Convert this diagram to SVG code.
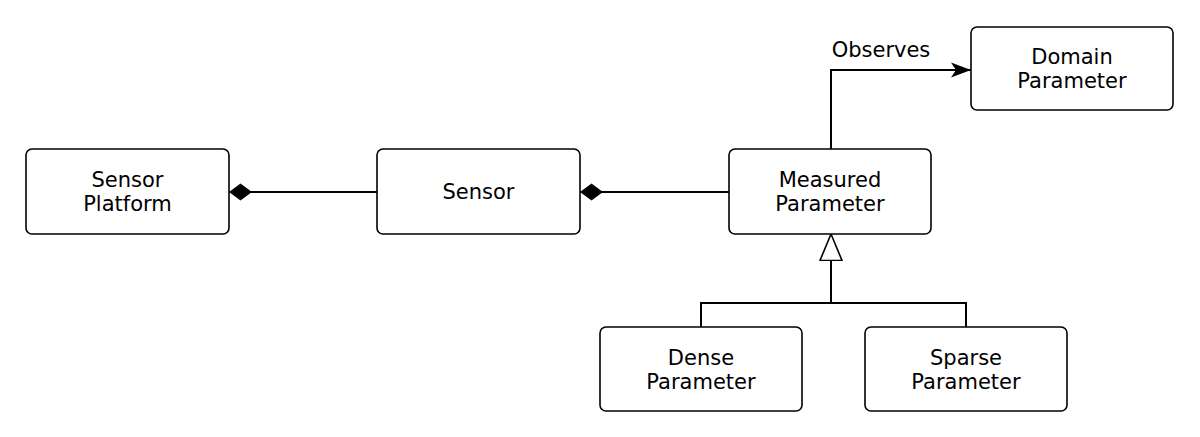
<svg xmlns="http://www.w3.org/2000/svg" width="1200" height="437" viewBox="0 0 1200 437">
<style>
.box{fill:#fff;stroke:#000;stroke-width:1.6}
.t{font-family:"DejaVu Sans",sans-serif;font-size:21px;fill:#000;text-anchor:middle}
.c{fill:none;stroke:#000;stroke-width:2}
</style>
<defs>
<marker id="diamond" markerUnits="userSpaceOnUse" markerWidth="26" markerHeight="20" refX="23" refY="9" orient="auto">
<path d="M0,9 L11.5,0.5 L23,9 L11.5,17.5 Z" fill="#000"/>
</marker>
<marker id="arrow" markerUnits="userSpaceOnUse" markerWidth="24" markerHeight="18" refX="20" refY="8" orient="auto">
<path d="M0,0.5 L20,8 L0,15.5 L5,8 Z" fill="#000"/>
</marker>
<marker id="tri" markerUnits="userSpaceOnUse" markerWidth="30" markerHeight="26" refX="27" refY="12" orient="auto">
<path d="M0.5,1 L27,12 L0.5,23 Z" fill="#fff" stroke="#000" stroke-width="1.6"/>
</marker>
</defs>
<g id="connectors">
<path class="c" d="M377,192 H229" marker-end="url(#diamond)"/>
<path class="c" d="M729,192 H580" marker-end="url(#diamond)"/>
<path class="c" d="M831,149 V70 H971" marker-end="url(#arrow)"/>
<text class="t" x="881" y="57">Observes</text>
<path class="c" d="M701,327 V303 H966 V327"/>
<path class="c" d="M831,303 V234" marker-end="url(#tri)"/>
</g>
<g id="sensor-platform">
<rect class="box" x="26" y="149" width="203" height="85" rx="6"/>
<text class="t" x="127.5" y="187">Sensor</text>
<text class="t" x="127.5" y="211">Platform</text>
</g>
<g id="sensor">
<rect class="box" x="377" y="149" width="203" height="85" rx="6"/>
<text class="t" x="478.5" y="199">Sensor</text>
</g>
<g id="measured-parameter">
<rect class="box" x="729" y="149" width="202" height="85" rx="6"/>
<text class="t" x="830" y="187">Measured</text>
<text class="t" x="830" y="211">Parameter</text>
</g>
<g id="domain-parameter">
<rect class="box" x="971" y="27" width="202" height="83" rx="6"/>
<text class="t" x="1072" y="64">Domain</text>
<text class="t" x="1072" y="88">Parameter</text>
</g>
<g id="dense-parameter">
<rect class="box" x="600" y="327" width="202" height="84" rx="6"/>
<text class="t" x="701" y="365">Dense</text>
<text class="t" x="701" y="389">Parameter</text>
</g>
<g id="sparse-parameter">
<rect class="box" x="865" y="327" width="202" height="84" rx="6"/>
<text class="t" x="966" y="365">Sparse</text>
<text class="t" x="966" y="389">Parameter</text>
</g>
</svg>
